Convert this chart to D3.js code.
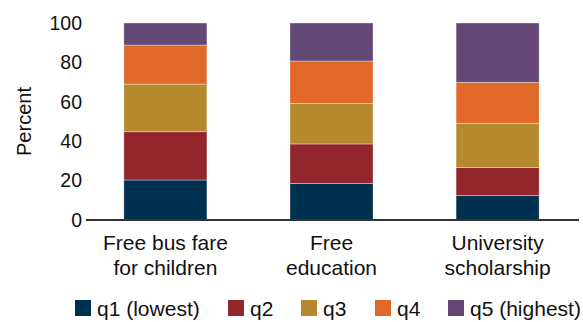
<!DOCTYPE html>
<html><head><meta charset="utf-8">
<script src="https://cdn.jsdelivr.net/npm/d3@7"></script>
<style>body{margin:0;background:#fff}text{font-family:"Liberation Sans",Arial,sans-serif;fill:#111}</style>
</head><body><svg id="c" width="583" height="322"></svg>
<script>
const categories = [["Free bus fare","for children"],["Free","education"],["University","scholarship"]];
const seriesNames = ["q1 (lowest)","q2","q3","q4","q5 (highest)"];
const q1 = [20.3, 18.6, 12.5];
const q2 = [24.5, 20.0, 14.2];
const q3 = [24.2, 20.6, 22.4];
const q4 = [19.8, 21.5, 20.8];
const q5 = [11.2, 19.3, 30.1];
const colors = ["#00304f","#93252c","#b58a2f","#e0692a","#634876"];
const yTicks = [0,20,40,60,80,100];

const svg = d3.select("#c");
const m = {l:86, r:4, t:23, b:102};
const W = 583, H = 322;
const x = d3.scaleBand().domain(d3.range(categories.length)).range([m.l - 2, W - m.r]).paddingInner(0.5).paddingOuter(0.24);
const y = d3.scaleLinear().domain([0,100]).range([H - m.b, m.t]);

const table = categories.map((c,i)=>({i, q1:q1[i], q2:q2[i], q3:q3[i], q4:q4[i], q5:q5[i]}));
const keys = ["q1","q2","q3","q4","q5"];
const stack = d3.stack().keys(keys)(table);

svg.append("g").selectAll("g").data(stack).join("g")
  .attr("fill",(d,k)=>colors[k])
  .selectAll("rect").data(d=>d).join("rect")
  .attr("x",d=>x(d.data.i)).attr("width",x.bandwidth())
  .attr("y",d=>y(d[1])).attr("height",d=>y(d[0])-y(d[1]))
  .attr("stroke","rgba(255,255,255,0.5)").attr("stroke-width",0.7);

// y axis labels
const yg = svg.append("g").attr("transform",`translate(${m.l},0)`)
  .call(d3.axisLeft(y).tickValues(yTicks).tickSize(0).tickPadding(4));
yg.select(".domain").remove();
yg.selectAll("text").style("font-size","19.5px").style("font-family","'Liberation Sans',Arial,sans-serif").attr("fill","#111");

// baseline
svg.append("line").attr("x1",m.l).attr("x2",W-m.r).attr("y1",y(0)).attr("y2",y(0))
  .attr("stroke","#333").attr("stroke-width",2);

// y title
svg.append("text").attr("transform",`translate(31,${(y(0)+y(100))/2}) rotate(-90)`)
  .attr("text-anchor","middle").style("font-size","20px").text("Percent");

// category labels
const cg = svg.append("g");
categories.forEach((lines,i)=>{
  const t = cg.append("text").attr("text-anchor","middle").style("font-size","21px")
    .attr("x", x(i)+x.bandwidth()/2).attr("y", 250);
  lines.forEach((l,j)=>t.append("tspan").attr("x",x(i)+x.bandwidth()/2).attr("dy", j? 25:0).text(l));
});

// legend
const legX = [75, 228, 301, 375, 448];
const lg = svg.append("g");
seriesNames.forEach((n,k)=>{
  lg.append("rect").attr("x",legX[k]).attr("y",300).attr("width",16).attr("height",16).attr("fill",colors[k]);
  lg.append("text").attr("x",legX[k]+22).attr("y",315.5).style("font-size","21px").text(n);
});
</script></body></html>
